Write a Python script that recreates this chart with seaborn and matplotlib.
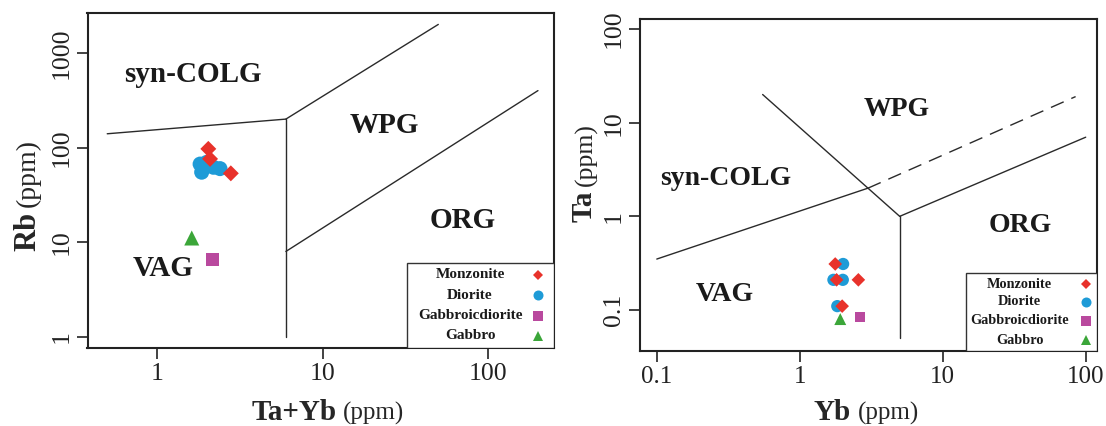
import numpy as np
import pandas as pd
import matplotlib
matplotlib.use("Agg")
import matplotlib.pyplot as plt
import seaborn as sns
from matplotlib.patches import Rectangle
from matplotlib.ticker import NullLocator

sns.set_style("ticks")
plt.rcParams["font.family"] = ["Liberation Serif", "DejaVu Serif"]

# ---------------- data ----------------
rock_types = ["Monzonite", "Diorite", "Gabbroicdiorite", "Gabbro"]
colors = {"Monzonite": "#E8322B", "Diorite": "#1E9BD7",
          "Gabbroicdiorite": "#B9499E", "Gabbro": "#3BA639"}
markers = {"Monzonite": "D", "Diorite": "o", "Gabbroicdiorite": "s", "Gabbro": "^"}

# Left panel: Rb vs Ta+Yb
dior_tayb = [1.82, 1.86, 2.19, 2.40, 2.0]
dior_rb = [67, 55, 62, 60, 70]
monz_tayb = [2.04, 2.09, 2.79]
monz_rb = [97, 76, 53.5]
gabdio_tayb = [2.17]
gabdio_rb = [6.6]
gab_tayb = [1.62]
gab_rb = [11.1]

# Right panel: Ta vs Yb
dior_yb = [2.01, 1.72, 2.0, 1.83]
dior_ta = [0.31, 0.21, 0.21, 0.11]
monz_yb = [1.77, 1.81, 2.57, 1.98]
monz_ta = [0.31, 0.21, 0.21, 0.11]
gabdio_yb = [2.63]
gabdio_ta = [0.085]
gab_yb = [1.92]
gab_ta = [0.08]

# Discrimination boundaries (Pearce et al. 1984)
l_colg_vag_x, l_colg_vag_y = [0.5, 6], [140, 200]
l_colg_wpg_x, l_colg_wpg_y = [6, 50], [200, 2000]
l_vag_org_x, l_vag_org_y = [6, 6], [1, 200]
l_wpg_org_x, l_wpg_org_y = [6, 200], [8, 400]

r_colg_vag_x, r_colg_vag_y = [0.1, 3], [0.35, 2]
r_colg_wpg_x, r_colg_wpg_y = [0.55, 3, 5], [20, 2, 1]
r_vag_org_x, r_vag_org_y = [5, 5], [0.05, 1]
r_wpg_org_x, r_wpg_org_y = [5, 100], [1, 7]
r_dash_x, r_dash_y = [3, 85], [2, 19]

left_xticks, left_xlabels = [1, 10, 100], ["1", "10", "100"]
left_yticks, left_ylabels = [1, 10, 100, 1000], ["1", "10", "100", "1000"]
right_xticks, right_xlabels = [0.1, 1, 10, 100], ["0.1", "1", "10", "100"]
right_yticks, right_ylabels = [0.1, 1, 10, 100], ["0.1", "1", "10", "100"]

# ---------------- figure ----------------
W, H = 1106, 426
fig = plt.figure(figsize=(W / 100, H / 100), dpi=100)
fig.patch.set_facecolor("white")


def px(x, y):
    return x / W, 1 - y / H


def axes_rect(x0, y0, x1, y1):
    return [x0 / W, 1 - y1 / H, (x1 - x0) / W, (y1 - y0) / H]


ax1 = fig.add_axes(axes_rect(87.5, 13, 554, 348))
ax2 = fig.add_axes(axes_rect(639.5, 19, 1096.5, 351))


def build_df(series):
    xs, ys, rocks = [], [], []
    for rock, xv, yv in series:
        xs += list(xv)
        ys += list(yv)
        rocks += [rock] * len(xv)
    return pd.DataFrame({"x": xs, "y": ys, "rock": rocks})


df_left = build_df([("Diorite", dior_tayb, dior_rb),
                    ("Monzonite", monz_tayb, monz_rb),
                    ("Gabbroicdiorite", gabdio_tayb, gabdio_rb),
                    ("Gabbro", gab_tayb, gab_rb)])
df_right = build_df([("Diorite", dior_yb, dior_ta),
                     ("Monzonite", monz_yb, monz_ta),
                     ("Gabbroicdiorite", gabdio_yb, gabdio_ta),
                     ("Gabbro", gab_yb, gab_ta)])

sizes_left = {"Monzonite": 66, "Diorite": 117, "Gabbroicdiorite": 88, "Gabbro": 117}
sizes_right = {"Monzonite": 48, "Diorite": 78, "Gabbroicdiorite": 52, "Gabbro": 74}

line_kw = dict(color="#2a2a2a", lw=1.0, zorder=2)

for ax, df, sizes in [(ax1, df_left, sizes_left), (ax2, df_right, sizes_right)]:
    ax.set_xscale("log")
    ax.set_yscale("log")
    sns.scatterplot(data=df, x="x", y="y", hue="rock", style="rock", size="rock",
                    palette=colors, markers=markers, sizes=sizes,
                    linewidth=0, legend=False, ax=ax, zorder=4)

# boundaries
ax1.plot(l_colg_vag_x, l_colg_vag_y, **line_kw)
ax1.plot(l_colg_wpg_x, l_colg_wpg_y, **line_kw)
ax1.plot(l_vag_org_x, l_vag_org_y, **line_kw)
ax1.plot(l_wpg_org_x, l_wpg_org_y, **line_kw)

ax2.plot(r_colg_vag_x, r_colg_vag_y, **line_kw)
ax2.plot(r_colg_wpg_x, r_colg_wpg_y, **line_kw)
ax2.plot(r_vag_org_x, r_vag_org_y, **line_kw)
ax2.plot(r_wpg_org_x, r_wpg_org_y, **line_kw)
ax2.plot(r_dash_x, r_dash_y, color="#2a2a2a", lw=1.0, ls=(0, (10, 6)), zorder=2)

# limits & ticks
ax1.set_xlim(0.38, 250)
ax1.set_ylim(0.765, 2640)
ax2.set_xlim(0.0757, 119)
ax2.set_ylim(0.0365, 128)

for ax, xt, xl, yt, yl in [(ax1, left_xticks, left_xlabels, left_yticks, left_ylabels),
                           (ax2, right_xticks, right_xlabels, right_yticks, right_ylabels)]:
    ax.set_xticks(xt, labels=xl)
    ax.set_yticks(yt, labels=yl)
    ax.xaxis.set_minor_locator(NullLocator())
    ax.yaxis.set_minor_locator(NullLocator())
    ax.set_xlabel("")
    ax.set_ylabel("")
    ax.tick_params(axis="both", direction="out", length=8, width=1.2,
                   labelsize=18.5, colors="#222222", labelcolor="#222222")
    ax.tick_params(axis="x", pad=3)
    ax.tick_params(axis="y", pad=2.5, labelrotation=90)
    for lbl in ax.get_yticklabels():
        lbl.set_va("center")
    for sp in ax.spines.values():
        sp.set_visible(True)
        sp.set_linewidth(1.5)
        sp.set_color("#222222")
    ax.set_facecolor("white")
ax2.tick_params(axis="x", labelsize=18)

# region labels
region_kw = dict(fontweight="bold", ha="center", va="baseline", color="#1a1a1a", zorder=3)
ax1.text(1.65, 497, "syn-COLG", fontsize=21, **region_kw)
ax1.text(23.5, 143, "WPG", fontsize=21, **region_kw)
ax1.text(70, 14.2, "ORG", fontsize=21, **region_kw)
ax1.text(1.09, 4.4, "VAG", fontsize=21, **region_kw)

ax2.text(0.304, 2.18, "syn-COLG", fontsize=20, **region_kw)
ax2.text(4.77, 11.9, "WPG", fontsize=20, **region_kw)
ax2.text(35, 0.675, "ORG", fontsize=20, **region_kw)
ax2.text(0.30, 0.126, "VAG", fontsize=20, **region_kw)


# legends (boxed, bottom-right)
def draw_legend(ax, x0, y_top, text_x, marker_x, rows_y, msizes, fsize):
    ax.add_patch(Rectangle((x0, 0), 1 - x0, y_top, transform=ax.transAxes,
                           facecolor="white", edgecolor="#333333", lw=1.0, zorder=5))
    for rock, ry in zip(rock_types, rows_y):
        ax.text(text_x, ry, rock, transform=ax.transAxes, ha="center", va="center",
                fontsize=fsize, fontweight="bold", color="#1a1a1a", zorder=6)
        ax.plot([marker_x], [ry], marker=markers[rock], color=colors[rock],
                ms=msizes[rock], mew=0, ls="none", transform=ax.transAxes,
                zorder=6, clip_on=False)


leg_ms = {"Monzonite": 5.3, "Diorite": 7.2, "Gabbroicdiorite": 6.5, "Gabbro": 7.9}
draw_legend(ax1, 0.685, 0.2537, 0.820, 0.9657, [0.218, 0.158, 0.096, 0.036], leg_ms, 11)
draw_legend(ax2, 0.7135, 0.235, 0.8316, 0.978, [0.2018, 0.1476, 0.0904, 0.0331], leg_ms, 10.3)

# axis titles (bold element + regular unit), placed side by side
fig.canvas.draw()
renderer = fig.canvas.get_renderer()


def xtitle(x0, y0, bold, unit, gap=6.5):
    t = fig.text(*px(x0, y0), bold, fontsize=21, fontweight="bold", ha="left", va="baseline")
    bb = t.get_window_extent(renderer)
    fig.text((bb.x1 + gap) / W, 1 - y0 / H, unit, fontsize=18, ha="left", va="baseline")


def ytitle(x0, y0, bold, unit, bsize, usize, gap=5):
    t = fig.text(*px(x0, y0), bold, fontsize=bsize, fontweight="bold", rotation=90,
                 rotation_mode="anchor", ha="left", va="baseline")
    bb = t.get_window_extent(renderer)
    fig.text(x0 / W, (bb.y1 + gap) / H, unit, fontsize=usize, rotation=90,
             rotation_mode="anchor", ha="left", va="baseline")


xtitle(251.7, 420, "Ta+Yb", "(ppm)")
xtitle(814, 420, "Yb", "(ppm)")
ytitle(35, 251, "Rb", "(ppm)", 22, 20)
ytitle(592, 222, "Ta", "(ppm)", 21, 18.5)

fig.savefig("out.png", dpi=100, facecolor="white")
